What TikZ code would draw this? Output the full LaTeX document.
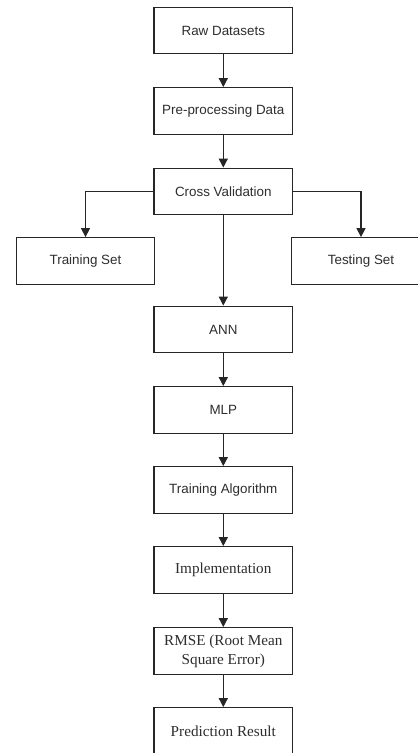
\documentclass[tikz,border=0pt]{standalone}
\usepackage{fontspec}
\setmainfont{Liberation Serif}
\setsansfont{Liberation Sans}
\usetikzlibrary{arrows.meta}

\tikzset{
  box/.style={draw=black!85, line width=1.3pt, fill=white,
    minimum width=138.5pt, minimum height=46.5pt, inner sep=2pt,
    align=center, text=black!82},
  sansbox/.style={box, font=\sffamily\fontsize{13.4}{15.5}\selectfont},
  serifbox/.style={box, font=\rmfamily\fontsize{15.2}{19}\selectfont},
  flow/.style={draw=black!85, line width=1.3pt,
    -{Triangle[length=9pt,width=9pt]}}
}

\begin{document}
\begin{tikzpicture}[x=1pt, y=-1pt]
  \useasboundingbox (0,0) rectangle (418,753);
  \clip (0,0) rectangle (418,753);

  % main column
  \node[sansbox]  (raw)   at (223.3, 30.5)  {Raw Datasets};
  \node[sansbox]  (pre)   at (223.3, 111)   {Pre-processing Data};
  \node[sansbox]  (cv)    at (223.3, 191.5) {Cross Validation};
  \node[sansbox]  (ann)   at (223.3, 329.5) {ANN};
  \node[sansbox]  (mlp)   at (223.3, 410)   {MLP};
  \node[sansbox]  (alg)   at (223.3, 490)   {Training Algorithm};
  \node[serifbox] (impl)  at (223.3, 570)   {Implementation};
  \node[serifbox] (rmse)  at (223.3, 651)   {RMSE (Root Mean\\Square Error)};
  \node[serifbox] (pred)  at (223.3, 731)   {Prediction Result};

  % split sets
  \node[sansbox]  (train) at (85.5, 261)    {Training Set};
  \node[sansbox]  (test)  at (361, 261)     {Testing Set};

  % connectors
  \draw[flow] (raw)  -- (pre);
  \draw[flow] (pre)  -- (cv);
  \draw[flow] (cv.west) -| (train.north);
  \draw[flow] (cv.east) -| (test.north);
  \draw[flow] (cv)   -- (ann);
  \draw[flow] (ann)  -- (mlp);
  \draw[flow] (mlp)  -- (alg);
  \draw[flow] (alg)  -- (impl);
  \draw[flow] (impl) -- (rmse);
  \draw[flow] (rmse) -- (pred);
\end{tikzpicture}
\end{document}
